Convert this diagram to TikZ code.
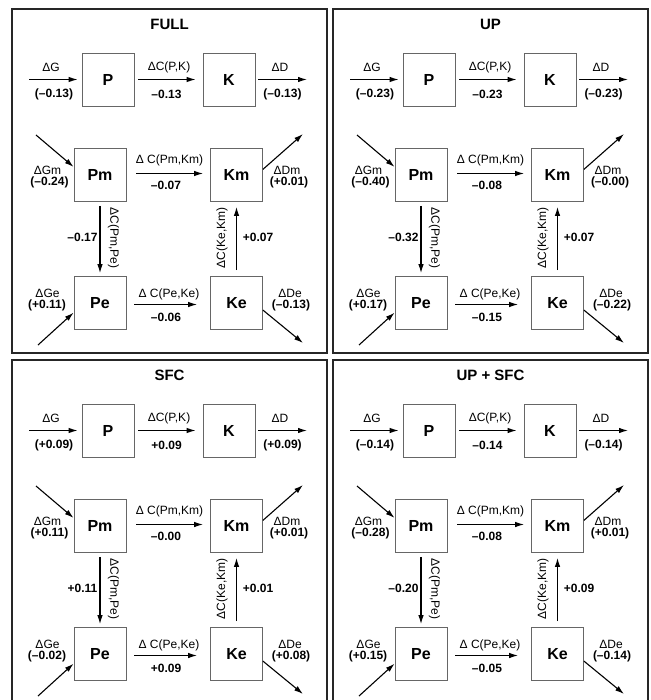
\documentclass[tikz,border=0pt]{standalone}
\usepackage{fontspec}
\setmainfont{Liberation Sans}
\usetikzlibrary{arrows.meta}
\tikzset{
  sbox/.style={draw=black!60, line width=0.8pt, minimum width=52pt, minimum height=53pt, inner sep=0pt, font=\fontsize{16}{18}\selectfont\bfseries},
  lab/.style={inner sep=0pt, font=\fontsize{12}{14}\selectfont},
  val/.style={inner sep=0pt, font=\fontsize{12}{14}\selectfont\bfseries},
  ttl/.style={inner sep=0pt, font=\fontsize{15}{17}\selectfont\bfseries},
  flow/.style={line width=1.1pt, -{Latex[length=9pt,width=5.5pt]}},
  panelframe/.style={draw=black!85, line width=1.4pt},
}
\newcommand\panelvalsA[6]{\def\pTitle{#1}\def\pvG{#2}\def\pvPK{#3}\def\pvD{#4}\def\pvGm{#5}\def\pvPmKm{#6}}
\newcommand\panelvalsB[6]{\def\pvDm{#1}\def\pvPmPe{#2}\def\pvKeKm{#3}\def\pvGe{#4}\def\pvPeKe{#5}\def\pvDe{#6}}
\newcommand\drawpanel[3]{%
\begin{scope}[shift={(#1,#2)}]
  \draw[panelframe] (0,0) rectangle (315,344);
  \node[ttl] (#3T) at (157.5,15.5) {\pTitle};
  % row 1
  \node[sbox] (#3P) at (96,70.5) {P};
  \node[sbox] (#3K) at (217,70.5) {K};
  \coordinate (#3gin) at (17,70.5);
  \coordinate (#3dout) at (295,70.5);
  \draw[flow] (#3gin) -- ([xshift=-4pt]#3P.west);
  \draw[flow] ([xshift=4pt]#3P.east) -- ([xshift=-7pt]#3K.west);
  \draw[flow] ([xshift=3pt]#3K.east) -- (#3dout);
  \node[lab] (#3lG) at (39,58) {ΔG};
  \node[val] (#3vG) at (42,85) {\pvG};
  \node[lab] (#3lPK) at (157,58) {ΔC(P,K)};
  \node[val] (#3vPK) at (154.5,85) {\pvPK};
  \node[lab] (#3lD) at (268,58) {ΔD};
  \node[val] (#3vD) at (270.5,85) {\pvD};
  % row 2
  \node[sbox] (#3Pm) at (88,166) {Pm};
  \node[sbox] (#3Km) at (224.5,166) {Km};
  \draw[flow] ([xshift=10pt,yshift=1.5pt]#3Pm.east) -- ([xshift=-7pt,yshift=1.5pt]#3Km.west);
  \node[lab] (#3lPmKm) at (157.5,151) {Δ C(Pm,Km)};
  \node[val] (#3vPmKm) at (154,176) {\pvPmKm};
  \coordinate (#3gmin) at (24,126);
  \draw[flow] (#3gmin) -- (#3Pm.163);
  \node[lab] (#3lGm) at (35.5,161) {ΔGm};
  \node[val] (#3vGm) at (37.5,173) {\pvGm};
  \coordinate (#3dmout) at (291,125);
  \draw[flow] (#3Km.12) -- (#3dmout);
  \node[lab] (#3lDm) at (275,161) {ΔDm};
  \node[val] (#3vDm) at (277,173) {\pvDm};
  % verticals
  \node[sbox] (#3Pe) at (88,294) {Pe};
  \node[sbox] (#3Ke) at (224.5,294) {Ke};
  \draw[flow] ([yshift=-4pt]#3Pm.south) -- ([yshift=3pt]#3Pe.north);
  \node[lab, rotate=-90] (#3lPmPe) at (101.5,229) {ΔC(Pm,Pe)};
  \node[val] (#3vPmPe) at (70.5,228) {\pvPmPe};
  \draw[flow] ([yshift=6pt]#3Ke.north) -- ([yshift=-5pt]#3Km.south);
  \node[lab, rotate=90] (#3lKeKm) at (210,229) {ΔC(Ke,Km)};
  \node[val] (#3vKeKm) at (246,228) {\pvKeKm};
  % row 3
  \draw[flow] ([xshift=8pt,yshift=-1.5pt]#3Pe.east) -- ([xshift=-13pt,yshift=-1.5pt]#3Ke.west);
  \node[lab] (#3lPeKe) at (157,285) {Δ C(Pe,Ke)};
  \node[val] (#3vPeKe) at (154,308) {\pvPeKe};
  \coordinate (#3gein) at (26,336);
  \draw[flow] (#3gein) -- (#3Pe.200);
  \node[lab] (#3lGe) at (35.5,284) {ΔGe};
  \node[val] (#3vGe) at (35,296) {\pvGe};
  \coordinate (#3deout) at (291,334);
  \draw[flow] (#3Ke.-15) -- (#3deout);
  \node[lab] (#3lDe) at (278,284) {ΔDe};
  \node[val] (#3vDe) at (279,296) {\pvDe};
\end{scope}}
\begin{document}
\begin{tikzpicture}[x=1pt,y=-1pt]
\clip (0,0) rectangle (650,700);
\fill[white] (0,0) rectangle (650,700);
{\panelvalsA{FULL}{(–0.13)}{–0.13}{(–0.13)}{(–0.24)}{–0.07}%
 \panelvalsB{(+0.01)}{–0.17}{+0.07}{(+0.11)}{–0.06}{(–0.13)}%
 \drawpanel{12}{9}{a}}
{\panelvalsA{UP}{(–0.23)}{–0.23}{(–0.23)}{(–0.40)}{–0.08}%
 \panelvalsB{(–0.00)}{–0.32}{+0.07}{(+0.17)}{–0.15}{(–0.22)}%
 \drawpanel{333}{9}{b}}
{\panelvalsA{SFC}{(+0.09)}{+0.09}{(+0.09)}{(+0.11)}{–0.00}%
 \panelvalsB{(+0.01)}{+0.11}{+0.01}{(–0.02)}{+0.09}{(+0.08)}%
 \drawpanel{12}{360}{c}}
{\panelvalsA{UP + SFC}{(–0.14)}{–0.14}{(–0.14)}{(–0.28)}{–0.08}%
 \panelvalsB{(+0.01)}{–0.20}{+0.09}{(+0.15)}{–0.05}{(–0.14)}%
 \drawpanel{333}{360}{d}}
\end{tikzpicture}
\end{document}
